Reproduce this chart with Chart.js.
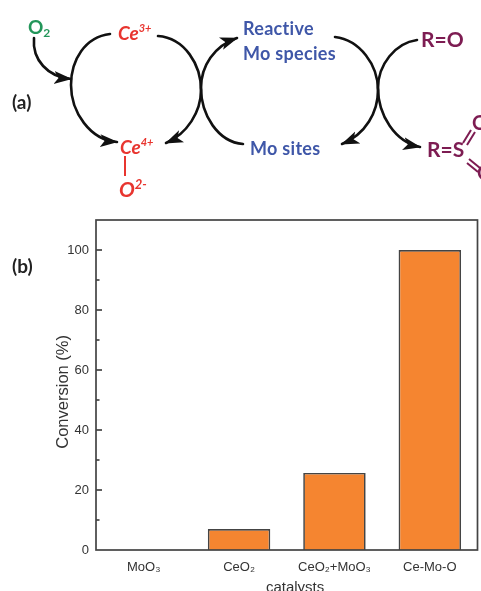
<!DOCTYPE html>
<html>
<head>
<meta charset="utf-8">
<title>Conversion by catalyst</title>
<script src="https://cdn.jsdelivr.net/npm/chart.js@4"></script>
<style>
  html, body { margin: 0; padding: 0; background: #fff; overflow: hidden; }
  #wrap { position: relative; width: 481px; height: 591px; overflow: hidden; }
  #chart { position: absolute; left: 0; top: 0; }
  #scheme { position: absolute; left: 0; top: 0; pointer-events: none; }
  #scheme text { font-family: "Lato", "Noto Sans", sans-serif; font-weight: 700; }
  #scheme path.arc { fill: none; stroke: #111; stroke-width: 2.6; stroke-linecap: round; }
  .red { fill: #e8352f; } .green { fill: #23965a; } .blue { fill: #3f57a8; } .plum { fill: #7d1c52; }
</style>
</head>
<body>
<div id="wrap">
  <canvas id="chart" width="481" height="591"></canvas>
  <svg id="scheme" width="481" height="591" viewBox="0 0 481 591">
    <defs>
      <marker id="head" markerUnits="userSpaceOnUse" markerWidth="20" markerHeight="14" refX="17" refY="6.5" orient="auto">
        <path d="M0 0 L18 6.5 L0 13 L4.5 6.5 Z" fill="#111"/>
      </marker>
    </defs>

    <!-- cycle arrows -->
    <path class="arc" marker-end="url(#head)" d="M34 38 C32 60 48 77 71 79"/>
    <path class="arc" marker-end="url(#head)" d="M110 34 C85 37 71 60 71 85 C71 112 90 140 117 142"/>
    <path class="arc" marker-end="url(#head)" d="M158 36 C185 38 201 65 201 90 C201 112 187 134 166 143"/>
    <path class="arc" marker-end="url(#head)" d="M243 144 C218 142 201 115 201 88 C201 66 214 46 237 38"/>
    <path class="arc" marker-end="url(#head)" d="M335 37 C360 40 378 65 378 90 C378 112 366 134 342 144"/>
    <path class="arc" marker-end="url(#head)" d="M417 40 C395 43 378 65 378 88 C378 115 395 142 420 147"/>

    <text x="12" y="109" font-size="19" fill="#222">(a)</text>
    <text x="12" y="273" font-size="19" fill="#222">(b)</text>

    <text x="28" y="34" font-size="19" class="green">O<tspan font-size="12" dy="3">2</tspan></text>
    <text x="118" y="40" font-size="19" font-style="italic" class="red">Ce<tspan font-size="11" dy="-8">3+</tspan></text>
    <text x="120" y="154" font-size="19" font-style="italic" class="red">Ce<tspan font-size="11" dy="-8">4+</tspan></text>
    <line x1="125" y1="156" x2="125" y2="176" stroke="#e8352f" stroke-width="2"/>
    <text x="119" y="197" font-size="21" font-style="italic" class="red">O<tspan font-size="13" dy="-8">2-</tspan></text>

    <text x="243" y="35" font-size="18" letter-spacing="0.3" class="blue">Reactive</text>
    <text x="243" y="60" font-size="18" letter-spacing="0.3" class="blue">Mo species</text>
    <text x="250" y="155" font-size="18" letter-spacing="0.3" class="blue">Mo sites</text>

    <text x="421" y="47" font-size="21" class="plum">R=O</text>
    <text x="427" y="157" font-size="21" class="plum">R=S</text>
    <text x="472" y="130" font-size="20" class="plum">O</text>
    <text x="477" y="180" font-size="20" class="plum">O</text>
    <path d="M463 143 L471 130 M467 145 L475 132 M469 159 L480 168 M467 163 L478 172" stroke="#7d1c52" stroke-width="2" fill="none"/>
  </svg>
</div>

<script>
const categories = ['MoO₃', 'CeO₂', 'CeO₂+MoO₃', 'Ce-Mo-O'];
const conversion = [0, 7, 25.7, 100];
const yLabelled = [0, 20, 40, 60, 80, 100];

const axisColor = '#444';
const textColor = '#333';

// frame round the plot and the inward ticks (chart.js only draws outward ones)
const framePlugin = {
  id: 'frame',
  afterDatasetsDraw(chart) {
    const { ctx, chartArea: a, scales } = chart;
    ctx.save();
    ctx.strokeStyle = axisColor;
    ctx.lineWidth = 1.7;
    ctx.strokeRect(a.left, a.top, a.right - a.left, a.bottom - a.top);
    scales.y.ticks.forEach(t => {
      if (t.value === 0 || t.value >= 110) return;
      const y = scales.y.getPixelForValue(t.value);
      const len = yLabelled.includes(t.value) ? 6 : 3.5;
      ctx.beginPath();
      ctx.moveTo(a.left, y);
      ctx.lineTo(a.left + len, y);
      ctx.stroke();
    });
    ctx.restore();
  }
};

new Chart(document.getElementById('chart').getContext('2d'), {
  type: 'bar',
  data: {
    labels: categories,
    datasets: [{
      data: conversion,
      backgroundColor: '#f58530',
      borderColor: axisColor,
      borderWidth: 1.7,
      categoryPercentage: 1,
      barPercentage: 0.655
    }]
  },
  options: {
    responsive: false,
    animation: false,
    // the bottom padding is negative because "catalysts" is cut by the page edge in the figure
    layout: { padding: { left: 54, top: 220, right: 3.5, bottom: -6 } },
    plugins: { legend: { display: false }, tooltip: { enabled: false } },
    scales: {
      x: {
        grid: { display: false, drawTicks: false },
        border: { display: false },
        ticks: { color: textColor, font: { family: 'Liberation Sans', size: 13 }, padding: 10, maxRotation: 0, autoSkip: false },
        // padded with spaces: the label sits right of the plot centre in the figure
        title: { display: true, text: '    catalysts', color: textColor, font: { family: 'Liberation Sans', size: 15 }, padding: 0 },
        afterFit(scale) { scale.height = 47; }
      },
      y: {
        min: 0,
        max: 110,
        grid: { display: false, drawTicks: false },
        border: { display: false },
        ticks: {
          stepSize: 10,
          autoSkip: false,
          padding: 7,
          color: textColor,
          font: { family: 'Liberation Sans', size: 13 },
          callback: v => yLabelled.includes(v) ? String(v) : ''
        },
        title: { display: true, text: 'Conversion (%)   ', color: textColor, font: { family: 'Liberation Sans', size: 16.5 }, padding: 0 },
        afterFit(scale) { scale.width = 42; }
      }
    }
  },
  plugins: [framePlugin]
});
</script>
</body>
</html>
